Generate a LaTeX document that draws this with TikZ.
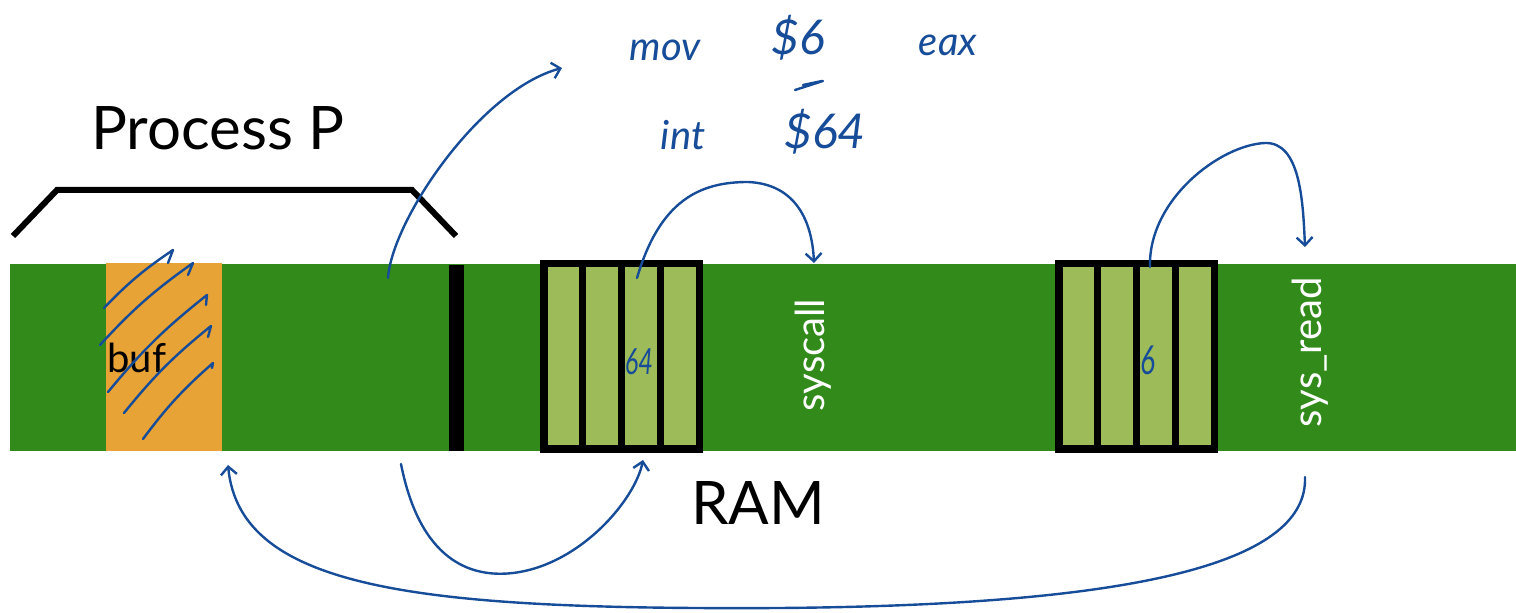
\documentclass[tikz,border=0pt]{standalone}
\usepackage{fontspec}
\setmainfont{Lato}
\usetikzlibrary{arrows.meta,positioning,calc}

\definecolor{ramgreen}{RGB}{49,138,26}
\definecolor{cellgreen}{RGB}{157,187,89}
\definecolor{bufcolor}{RGB}{232,163,54}
\definecolor{ink}{RGB}{22,76,152}

\begin{document}
\begin{tikzpicture}[
    x=0.5pt, y=-0.5pt,
    cell/.style={draw=black, fill=cellgreen, line width=3.75pt, outer sep=0pt, inner sep=0pt, minimum width=19.45pt, minimum height=92.75pt},
    pen/.style={draw=ink, line width=1.2pt, line cap=round, line join=round},
    penarrow/.style={pen, -{Straight Barb[length=4pt,width=8pt]}},
    hand/.style={text=ink, inner sep=0pt, font=\itshape\fontsize{20}{24}\selectfont},
    memtext/.style={inner sep=0pt, font=\fontsize{20}{24}\selectfont}
  ]
  \useasboundingbox (0,0) rectangle (1516,613);

  % memory bar
  \fill[ramgreen] (10,264) rectangle (1516,451);
  \fill[bufcolor] (106,263) rectangle (222,451);
  \fill[black] (449,265) rectangle (464,451);

  % two 4-byte words in memory
  \foreach \i in {1,...,4} {
    \node[cell] (a\i) at ({543.75+19.45+38.9*(\i-1)},356.5) {};
    \node[cell] (b\i) at ({1058.75+19.45+38.9*(\i-1)},356.5) {};
  }

  \node[memtext, anchor=base west] (buf) at (107,373) {buf};
  \node[memtext, text=white, rotate=90] (syscall) at (813,355) {syscall};
  \node[memtext, text=white, rotate=90] (sysread) at (1310,352) {sys\_read};
  \node[font=\fontsize{30}{36}\selectfont] (ram) at (758,503) {RAM};

  % address range of P
  \draw[line width=3pt] (13,236) -- (57,190) -- (412,190) -- (456,236);
  \node[font=\fontsize{30}{36}\selectfont] (proc) at (218,128) {Process P};

  % instructions
  \node[hand] (mov) at (665,50) {mov};
  \node[hand, font=\itshape\fontsize{24}{28}\selectfont] (six) at (798,38) {\$6};
  \node[hand] (eax) at (948,45) {eax};
  \node[hand] (int) at (683,135) {int};
  \node[hand, font=\itshape\fontsize{24}{28}\selectfont] (sixtyfour) at (825,132) {\$64};
  \draw[pen] (795,90) -- (823,81) (803,85) -- (822,81);

  \node[hand, xscale=0.7, font=\itshape\fontsize{18}{20}\selectfont] (v64) at (639,362) {64};
  \node[hand, xscale=0.7, font=\itshape\fontsize{20}{22}\selectfont] (v6) at (1148,360) {6};

  % hatching over buf
  \foreach \sx/\sy/\ex/\ey/\hx/\hy in {104/308/173/250/168/263, 100/345/193/263/188/275,
      108/392/207/295/206/305, 124/413/211/326/208/337, 143/439/213/363/212/368}
    \draw[pen] (\sx,\sy) to[bend left=6] (\ex,\ey) -- (\hx,\hy);

  % control flow
  \coordinate (code) at (388,278);
  \coordinate (movend) at (562,68);
  \coordinate (int64) at (637,278);
  \coordinate (sctop) at (814,263);
  \coordinate (rd) at (1150,267);
  \coordinate (rdtop) at (1305,247);
  \coordinate (call) at (401,464);
  \coordinate (a3low) at (643,460);
  \coordinate (rdlow) at (1305,477);
  \coordinate (buflow) at (228,465);

  \draw[penarrow] (code) .. controls (392,220) and (480,90) .. (movend);
  \draw[penarrow] (int64) .. controls (660,200) and (700,182) .. (748,182)
    .. controls (795,184) and (812,220) .. (sctop);
  \draw[penarrow] (rd) .. controls (1148,200) and (1220,145) .. (1265,143)
    .. controls (1300,142) and (1303,200) .. (rdtop);
  \draw[penarrow] (call) .. controls (420,560) and (470,578) .. (513,573)
    .. controls (580,565) and (635,500) .. (a3low);
  \draw[penarrow] (rdlow) .. controls (1308,560) and (1150,605) .. (780,608)
    .. controls (420,610) and (240,590) .. (buflow);
\end{tikzpicture}
\end{document}
